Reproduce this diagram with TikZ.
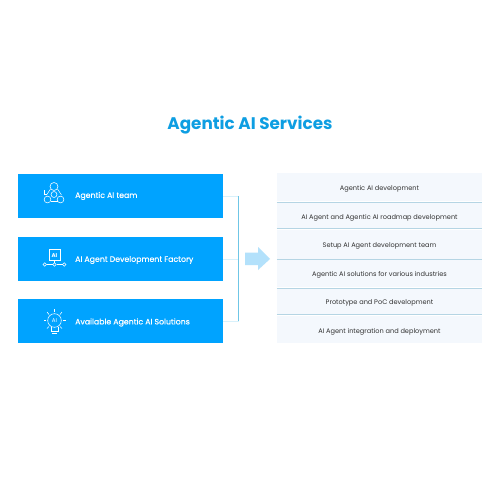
\documentclass[tikz,border=0pt]{standalone}
\usepackage{fontspec}
\setmainfont{Poppins}
\newfontfamily\leftfont[FakeBold=0.35]{Poppins}
\usetikzlibrary{positioning}
\definecolor{titleblue}{HTML}{0E9EE2}
\definecolor{boxblue}{HTML}{00A3FF}
\definecolor{rowfill}{HTML}{F4F8FD}
\definecolor{rowline}{HTML}{B5D5E4}
\definecolor{spineblue}{HTML}{6FC6E6}
\definecolor{stubblue}{HTML}{D8F1FB}
\definecolor{arrowblue}{HTML}{B3E1FB}
\tikzset{
  leftbox/.style={rectangle,fill=boxblue,minimum width=205pt,minimum height=44pt,inner sep=0pt},
  lefttext/.style={font=\leftfont\fontsize{7.8}{9}\selectfont,text=white,anchor=west,inner sep=0pt},
  rowbox/.style={rectangle,fill=rowfill,minimum width=205pt,inner sep=0pt,text height=7.5pt,text depth=0pt,font=\fontsize{6.6}{8}\selectfont,text=black!80},
  rowrule/.style={rowline,line width=0.8pt},
  stub/.style={stubblue,line width=0.8pt},
  spine/.style={spineblue,line width=0.8pt},
  icon/.style={white,line width=0.55pt}
}
\begin{document}
\begin{tikzpicture}[x=1pt,y=-1pt]
\useasboundingbox (0,0) rectangle (500,500);
\fill[white] (0,0) rectangle (500,500);
\node[font=\bfseries\fontsize{16.8}{20}\selectfont,text=titleblue] (title) at (250,125) {Agentic AI Services};

\node[leftbox] (teambox) at (120.5,196) {};
\node[leftbox] (factorybox) at (120.5,259) {};
\node[leftbox] (solutionsbox) at (120.5,321) {};
\node[lefttext] (teamtext) at (75,196) {Agentic AI team};
\node[lefttext] (factorytext) at (75,260) {AI Agent Development Factory};
\node[lefttext] (solutionstext) at (75,322.5) {Available Agentic AI Solutions};

\coordinate (spinetop) at (238.5,196);
\coordinate (spinemid) at (238.5,259);
\coordinate (spinebot) at (238.5,321);
\draw[stub] (teambox.east) -- (spinetop);
\draw[stub] (factorybox.east) -- (spinemid);
\draw[stub] (solutionsbox.east) -- (spinebot);
\draw[spine] (spinetop) -- (spinebot);
\fill[arrowblue] (245,252.5) -- (258,252.5) -- (258,247) -- (270,259) -- (258,270) -- (258,265) -- (245,265) -- cycle;

\node[rowbox,minimum height=28pt] (rowa) at (379.5,187) {Agentic AI development};
\node[rowbox,minimum height=26pt] (rowb) at (379.5,215.5) {AI Agent and Agentic AI roadmap development};
\node[rowbox,minimum height=29pt] (rowc) at (379.5,244) {Setup AI Agent development team};
\node[rowbox,minimum height=28pt] (rowd) at (379.5,272.5) {Agentic AI solutions for various industries};
\node[rowbox,minimum height=26pt] (rowe) at (379.5,301) {Prototype and PoC development};
\node[rowbox,minimum height=27pt] (rowf) at (379.5,329.5) {AI Agent integration and deployment};
\draw[rowrule] (rowa.south west) ++(0,1.5) -- ++(205,0);
\draw[rowrule] (rowb.south west) ++(0,0) -- ++(205,0);
\draw[rowrule] (rowc.south west) ++(0,0.5) -- ++(205,0);
\draw[rowrule] (rowd.south west) ++(0,1.5) -- ++(205,0);
\draw[rowrule] (rowe.south west) ++(0,0) -- ++(205,0);

% team icon
\draw[icon] (54,186.5) circle (4);
\draw[icon] (47.5,199.5) circle (3.4);
\draw[icon] (60.5,199.5) circle (3.4);
\draw[icon] (54,194.5) circle (3);
\draw[icon] (50.5,189) -- (46.5,195) (57.5,189) -- (61.5,195);
\draw[icon] (50.5,201.5) -- (57.5,201.5);
\draw[icon] (44.5,190) -- (44.5,194) -- (47,194);

% factory icon
\draw[icon] (49,249.5) rectangle (60,260);
\node[font=\bfseries\fontsize{5.5}{6}\selectfont,text=white,inner sep=0pt] (factorylabel) at (54.5,255.3) {AI};
\draw[icon] (54.5,260) -- (54.5,262.5);
\draw[icon] (46.5,264.5) -- (52.5,264.5) (56.5,264.5) -- (62.5,264.5);
\draw[icon] (44.8,264.5) circle (1.7);
\draw[icon] (54.5,264.5) circle (1.8);
\draw[icon] (64.2,264.5) circle (1.7);

% bulb icon
\draw[icon] (54.5,320.5) circle (6.8);
\node[font=\fontsize{5.5}{6}\selectfont,text=white,inner sep=0pt] (bulblabel) at (54.5,320.8) {AI};
\draw[icon] (51,327) -- (51,331) -- (58,331) -- (58,327);
\draw[icon] (52,333) -- (57,333);
\draw[icon] (54.5,309) -- (54.5,311.5);
\draw[icon] (47,312) -- (49,314.5);
\draw[icon] (62,312) -- (60,314.5);
\draw[icon] (44,320.5) -- (46,320.5);
\draw[icon] (63,320.5) -- (65.5,320.5);
\draw[icon] (47,328.5) -- (49,326.5);
\draw[icon] (62,328.5) -- (60,326.5);
\end{tikzpicture}
\end{document}
